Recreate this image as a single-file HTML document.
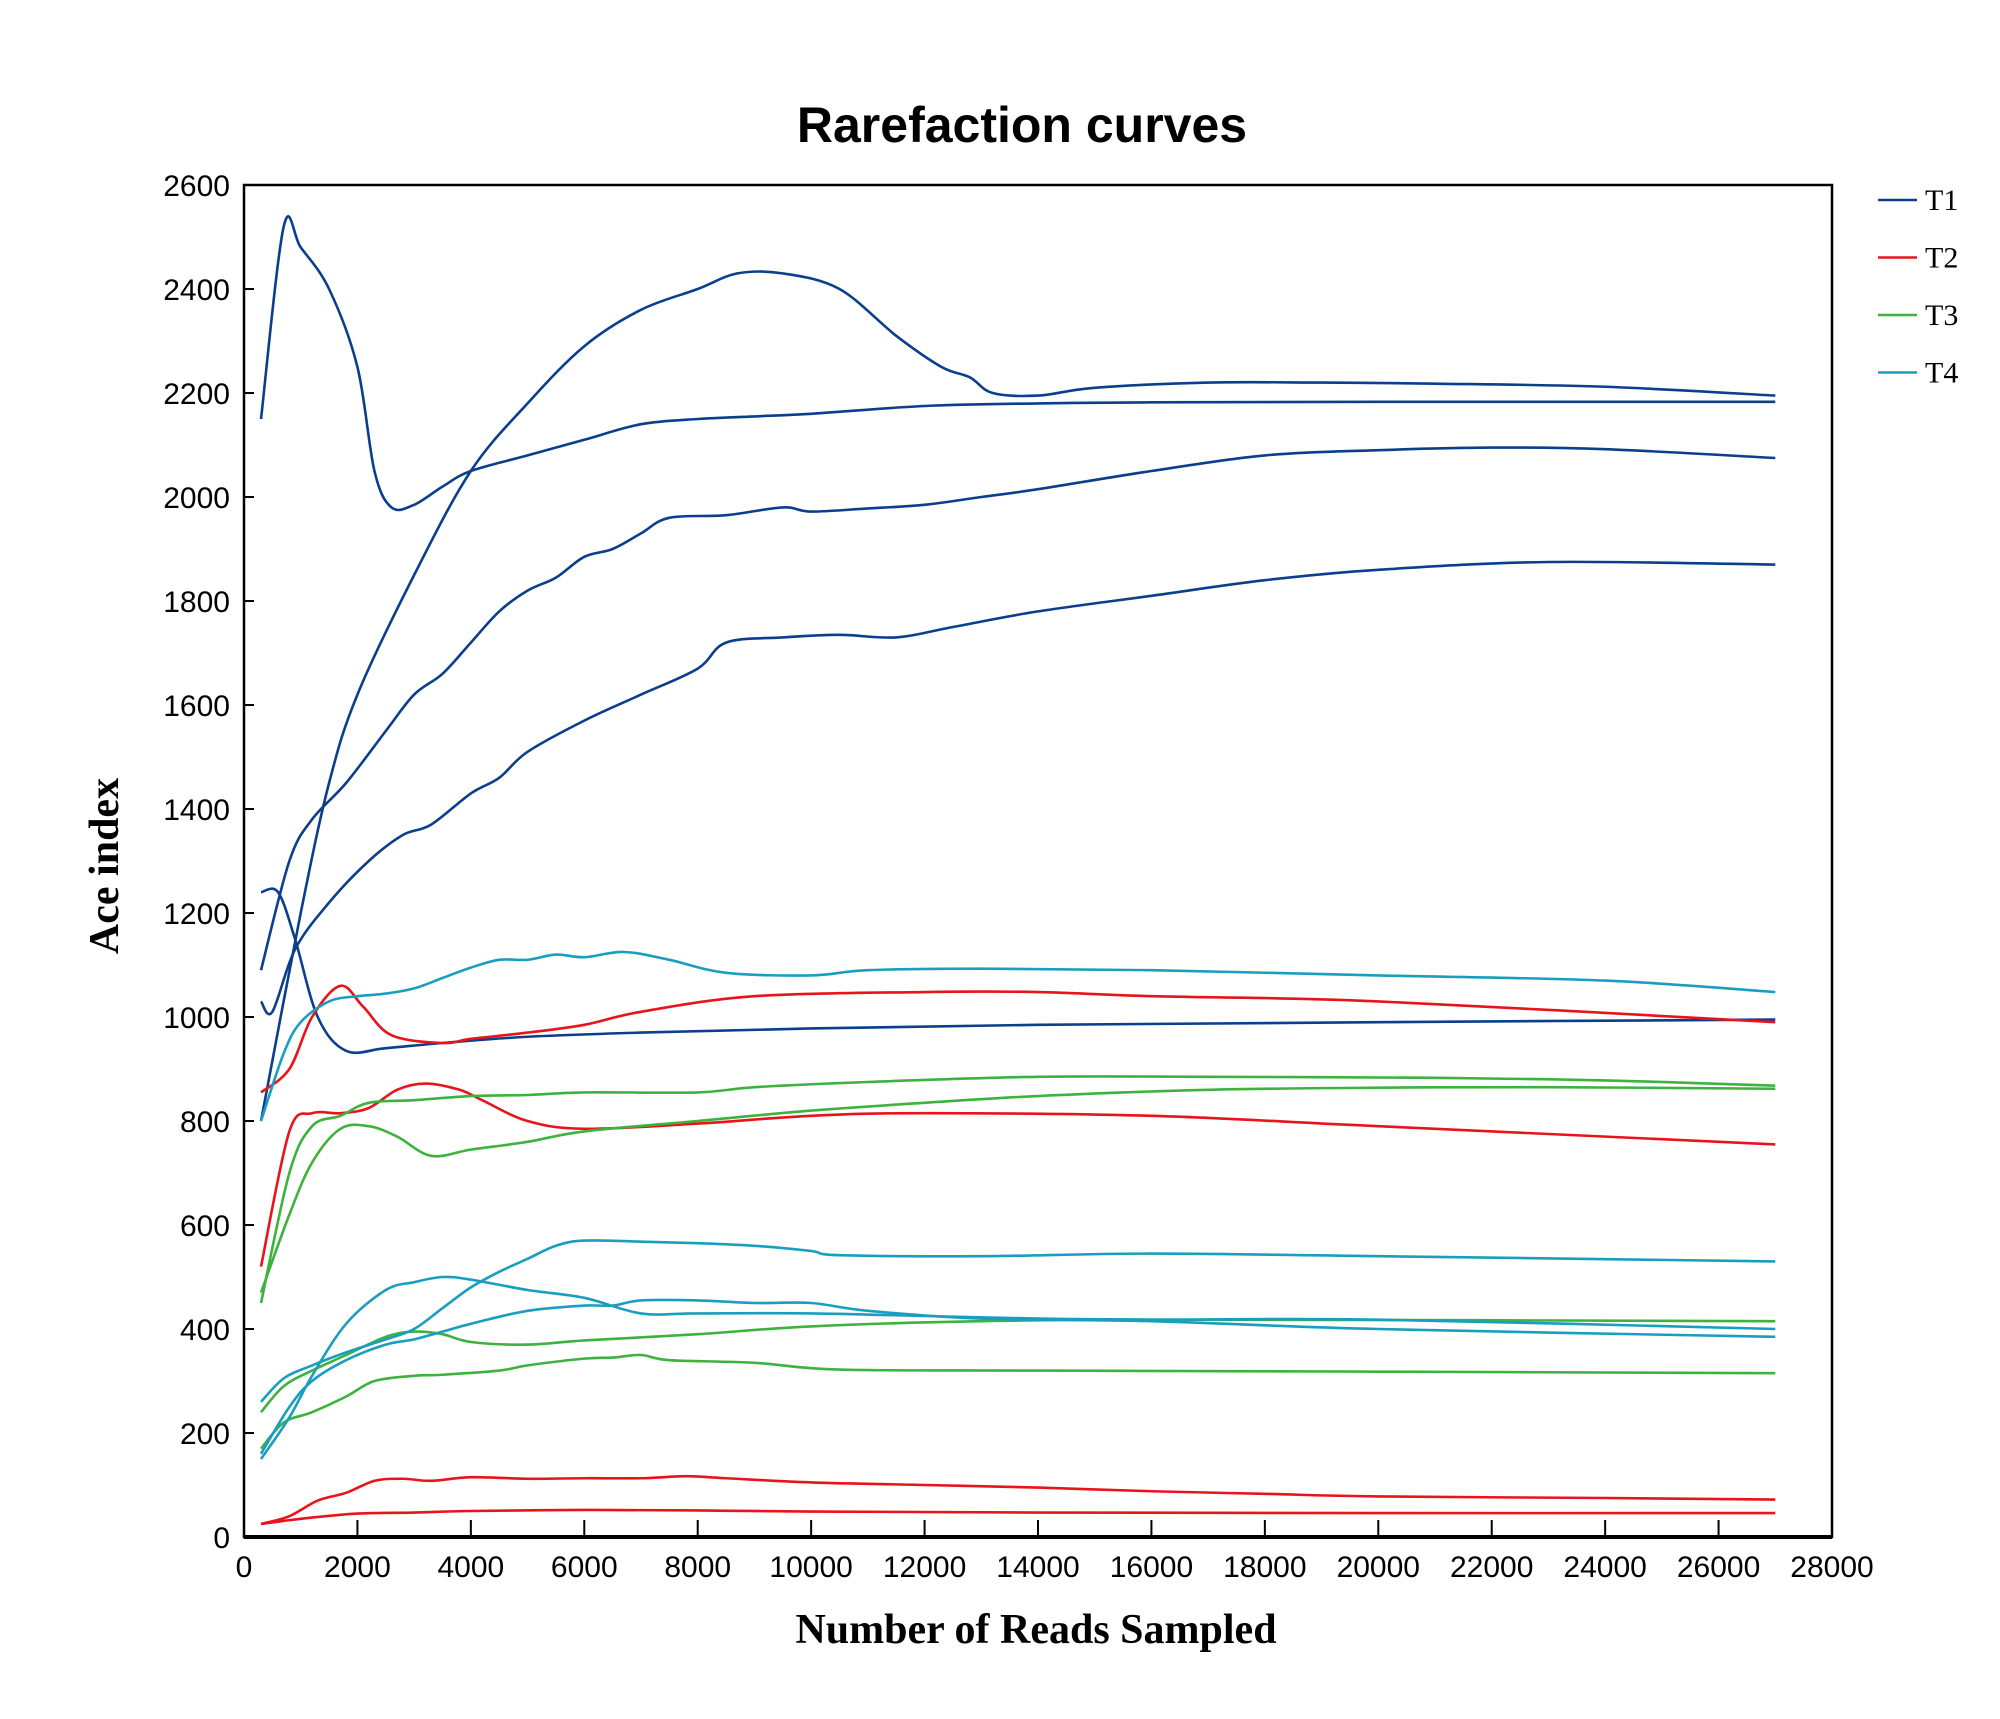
<!DOCTYPE html>
<html><head><meta charset="utf-8"><style>
body{margin:0;background:#fff}
svg text{font-family:"Liberation Sans",sans-serif}
</style></head><body>
<svg id="chart" width="2000" height="1714" viewBox="0 0 2000 1714" xmlns="http://www.w3.org/2000/svg">
<text x="1022" y="142" text-anchor="middle" font-size="50" font-weight="bold">Rarefaction curves</text>
<g id="plot"></g>
<text x="1036" y="1643" text-anchor="middle" font-size="42" font-weight="bold" style="font-family:'Liberation Serif',serif">Number of Reads Sampled</text>
<text transform="translate(118,866) rotate(-90)" text-anchor="middle" font-size="42" font-weight="bold" style="font-family:'Liberation Serif',serif">Ace index</text>
<g id="legend"></g>
</svg>
<script>
const xTicks=[0,2000,4000,6000,8000,10000,12000,14000,16000,18000,20000,22000,24000,26000,28000];
const yTicks=[0,200,400,600,800,1000,1200,1400,1600,1800,2000,2200,2400,2600];
const groups=["T1","T2","T3","T4"];
const colors=["#0b3f8c","#e8141c","#3db33d","#1a9ec0"];
const T1=[
[[300,2150],[700,2520],[1000,2480],[1500,2400],[2000,2250],[2300,2050],[2600,1980],[3000,1985],[3500,2020],[4000,2050],[5000,2080],[6000,2110],[7000,2140],[8000,2150],[9000,2155],[10000,2160],[12000,2175],[14000,2180],[16000,2182],[20000,2183],[27000,2183]],
[[300,800],[1000,1200],[1500,1450],[2000,1620],[3000,1850],[4000,2050],[5000,2180],[6000,2290],[7000,2360],[8000,2400],[8700,2430],[9500,2430],[10500,2400],[11500,2310],[12300,2250],[12800,2230],[13200,2200],[14000,2195],[15000,2210],[17000,2220],[19000,2220],[21000,2218],[24000,2212],[27000,2195]],
[[300,1090],[800,1300],[1200,1380],[1800,1450],[2500,1550],[3000,1620],[3500,1660],[4000,1720],[4500,1780],[5000,1820],[5500,1845],[6000,1885],[6500,1900],[7000,1930],[7500,1960],[8500,1965],[9500,1980],[10000,1972],[11000,1978],[12000,1985],[13000,2000],[14000,2015],[16000,2050],[18000,2080],[20000,2090],[22000,2095],[24000,2092],[27000,2075]],
[[300,1030],[500,1010],[900,1130],[1500,1220],[2200,1300],[2800,1350],[3300,1370],[4000,1430],[4500,1460],[5000,1510],[6000,1570],[7000,1620],[8000,1670],[8500,1720],[9500,1730],[10500,1735],[11500,1730],[12500,1750],[14000,1780],[16000,1810],[18000,1840],[20000,1860],[23000,1875],[27000,1870]],
[[300,1240],[600,1240],[900,1150],[1300,1000],[1800,935],[2500,940],[3500,950],[5000,962],[7000,970],[10000,978],[14000,985],[20000,990],[27000,995]]];
const T2=[
[[300,855],[800,900],[1200,1000],[1700,1060],[2100,1020],[2600,965],[3500,950],[4000,958],[5000,970],[6000,985],[7000,1010],[9000,1040],[12000,1048],[14000,1048],[16000,1040],[20000,1030],[27000,990]],
[[300,520],[800,780],[1200,815],[1700,815],[2200,825],[2700,860],[3200,872],[3800,860],[4200,840],[5000,800],[6000,785],[8000,795],[10000,810],[12000,815],[16000,810],[20000,790],[27000,755]],
[[300,25],[800,40],[1300,70],[1800,85],[2300,108],[2800,112],[3300,108],[4000,115],[5000,112],[6000,113],[7000,113],[7800,117],[8500,113],[10000,105],[12000,100],[14000,95],[16000,88],[18000,83],[20000,78],[24000,75],[27000,72]],
[[300,25],[1000,35],[2000,45],[3000,47],[4000,50],[6000,52],[8000,51],[10000,49],[14000,47],[20000,46],[27000,46]]];
const T3=[
[[300,450],[800,700],[1200,790],[1700,810],[2200,835],[3000,840],[4000,848],[5000,850],[6000,855],[8000,855],[9000,865],[11000,875],[14000,885],[17000,885],[21000,883],[24000,878],[27000,868]],
[[300,470],[800,620],[1200,720],[1700,785],[2200,790],[2700,770],[3300,733],[4000,745],[5000,760],[6000,780],[8000,800],[10000,820],[12000,835],[14000,848],[17000,860],[20000,864],[23000,865],[27000,862]],
[[300,240],[700,290],[1200,320],[1800,350],[2500,385],[3000,395],[3500,390],[4000,375],[5000,370],[6000,378],[8000,390],[10000,405],[13000,415],[17000,418],[27000,415]],
[[300,170],[700,220],[1200,240],[1800,270],[2300,300],[3000,310],[3500,312],[4500,320],[5000,330],[6000,343],[6500,345],[7000,350],[7500,340],[9000,335],[10500,322],[14000,320],[20000,318],[27000,315]]];
const T4=[
[[300,800],[700,930],[1000,990],[1500,1030],[2000,1040],[2500,1045],[3000,1055],[3500,1075],[4000,1095],[4500,1110],[5000,1110],[5500,1120],[6000,1115],[6700,1125],[7500,1110],[8500,1085],[10000,1080],[11000,1090],[13000,1093],[16000,1090],[20000,1080],[24000,1070],[27000,1048]],
[[300,150],[800,230],[1200,310],[1800,410],[2500,475],[3000,490],[3500,500],[4000,495],[5000,475],[6000,460],[7000,430],[8000,430],[10000,430],[12000,425],[14000,420],[16000,418],[20000,418],[27000,400]],
[[300,260],[700,305],[1200,330],[1800,355],[2500,380],[3000,400],[3500,440],[4000,480],[4500,510],[5000,535],[5500,560],[6000,570],[7000,568],[8000,565],[9000,560],[10000,550],[10500,542],[13000,540],[16000,545],[20000,540],[27000,530]],
[[300,160],[800,250],[1200,300],[1800,340],[2500,370],[3000,380],[3500,395],[4000,410],[5000,435],[6000,445],[6500,445],[7000,455],[8000,455],[9000,450],[10000,450],[11000,435],[13000,420],[16000,415],[20000,400],[27000,385]]];
const seriesSets=[T1,T2,T3,T4];

const L=244,R=1832,T=185,B=1537;
const xs=v=>L+v/28000*(R-L);
const ys=v=>B-v/2600*(B-T);
const NS="http://www.w3.org/2000/svg";
const plot=document.getElementById('plot');
function mk(tag,attrs,parent){const e=document.createElementNS(NS,tag);for(const k in attrs)e.setAttribute(k,attrs[k]);parent.appendChild(e);return e;}
function smooth(pts){let d=`M${pts[0][0]},${pts[0][1]}`;for(let i=0;i<pts.length-1;i++){const p0=pts[i-1]||pts[i],p1=pts[i],p2=pts[i+1],p3=pts[i+2]||p2;const c1=[p1[0]+(p2[0]-p0[0])/6,p1[1]+(p2[1]-p0[1])/6],c2=[p2[0]-(p3[0]-p1[0])/6,p2[1]-(p3[1]-p1[1])/6];d+=` C${c1[0]},${c1[1]} ${c2[0]},${c2[1]} ${p2[0]},${p2[1]}`;}return d;}
seriesSets.forEach((set,gi)=>{set.forEach((s,si)=>{
 const p=mk('path',{d:smooth(s.map(q=>[xs(q[0]),ys(q[1])])),fill:'none',stroke:colors[gi],'stroke-width':2.6},plot);
 
 
});});
const frame=mk('rect',{x:L,y:T,width:R-L,height:B-T,fill:'none',stroke:'#000','stroke-width':2.5},plot);


const bl=mk('line',{x1:L,x2:R,y1:B,y2:B,stroke:'#000','stroke-width':4},plot);


xTicks.forEach(v=>{
 const t=mk('line',{x1:xs(v),x2:xs(v),y1:B,y2:B-17,stroke:'#000','stroke-width':2},plot);
 
 
 const lb=mk('text',{x:xs(v),y:B+40,'text-anchor':'middle','font-size':30},plot);lb.textContent=v;
 
 
});
yTicks.forEach(v=>{
 const t=mk('line',{x1:L,x2:L+10,y1:ys(v),y2:ys(v),stroke:'#000','stroke-width':2},plot);
 
 
 const lb=mk('text',{x:L-14,y:ys(v)+11,'text-anchor':'end','font-size':30},plot);lb.textContent=v;
 
 
});
const lg=document.getElementById('legend');
groups.forEach((g,i)=>{
 const y=200+i*57.5;
 const ln=mk('line',{x1:1878,x2:1917,y1:y,y2:y,stroke:colors[i],'stroke-width':2.6},lg);
 
 
 const tx=mk('text',{x:1925,y:y+10,'font-size':30,style:"font-family:'Liberation Serif',serif"},lg);tx.textContent=g;
 
 
});
</script>
</body></html>
